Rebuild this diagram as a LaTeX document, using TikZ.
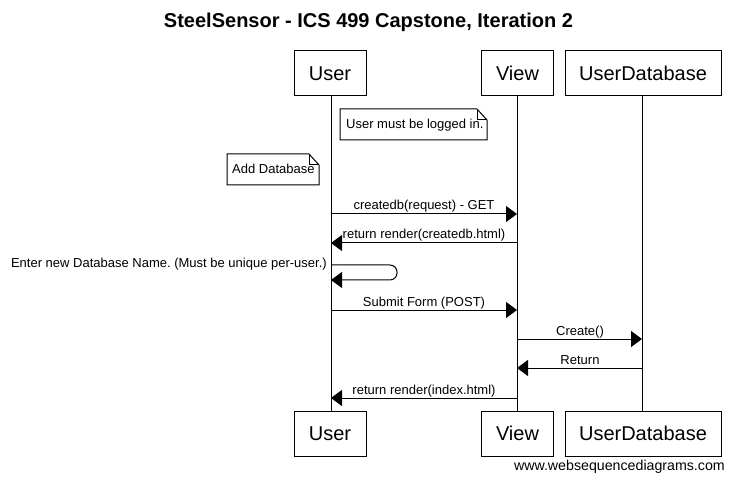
\documentclass[tikz,border=0pt]{standalone}
\usepackage{fontspec}
\setmainfont{Liberation Sans}
\usetikzlibrary{arrows.meta}
\frenchspacing
\begin{document}
\begin{tikzpicture}[x=1pt,y=-1pt,
  actor/.style={draw,line width=1pt,fill=white,minimum width=72pt,minimum height=45pt,inner sep=0pt,font=\fontsize{20}{24}\selectfont},
  life/.style={line width=1pt},
  msg/.style={line width=1pt,-{Triangle[length=11pt,width=16pt]}},
  lbl/.style={font=\fontsize{13}{15}\selectfont,inner sep=0pt,anchor=base},
  notebox/.style={draw,line width=1pt,fill=white},
  notetext/.style={font=\fontsize{13}{15}\selectfont,inner sep=0pt,anchor=base west}]
\useasboundingbox (0,0) rectangle (734,481);
\fill[white] (0,0) rectangle (734,481);
% title
\node[font=\bfseries\fontsize{20}{24}\selectfont,inner sep=0pt,anchor=base] (title) at (368.5,28) {SteelSensor - ICS 499 Capstone, Iteration 2};
% lifelines
\coordinate (ut) at (331,96); \coordinate (ub) at (331,411);
\coordinate (vt) at (517,96); \coordinate (vb) at (517,411);
\coordinate (dt) at (642,96); \coordinate (db) at (642,411);
\draw[life] (ut) -- (ub);
\draw[life] (vt) -- (vb);
\draw[life] (dt) -- (db);
% actors
\node[actor] (user1) at (330,73.5) {User};
\node[actor] (view1) at (517.5,73.5) {View};
\node[actor,minimum width=156pt] (udb1) at (643,73.5) {UserDatabase};
\node[actor] (user2) at (330,433.5) {User};
\node[actor] (view2) at (517.5,433.5) {View};
\node[actor,minimum width=156pt] (udb2) at (643,433.5) {UserDatabase};
% note 1
\draw[notebox] (340,109) -- (477,109) -- (487,120) -- (487,140) -- (340,140) -- cycle;
\draw[line width=1pt] (477,109) -- (477,120) -- (487,120);
\node[notetext] (n1) at (346,129) {User must be logged in.};
% note 2
\draw[notebox] (227,154) -- (309,154) -- (319,165) -- (319,185) -- (227,185) -- cycle;
\draw[line width=1pt] (309,154) -- (309,165) -- (319,165);
\node[notetext] (n2) at (232,174) {Add Database};
% messages
\coordinate (u1) at (331,214); \coordinate (v1) at (517,214);
\draw[msg] (u1) -- (v1);
\node[lbl] (m1) at (424,210) {createdb(request) - GET};
\coordinate (u2) at (331,243); \coordinate (v2) at (517,243);
\draw[msg] (v2) -- (u2);
\node[lbl] (m2) at (424,239) {return render(createdb.html)};
\coordinate (s1) at (331,265); \coordinate (s2) at (331,280);
\draw[msg,rounded corners=7pt] (s1) -- (397,265) -- (397,280) -- (s2);
\node[lbl,anchor=base east] (m3) at (327,268) {Enter new Database Name. (Must be unique per-user.)};
\coordinate (u4) at (331,310); \coordinate (v4) at (517,310);
\draw[msg] (u4) -- (v4);
\node[lbl] (m4) at (424,306) {Submit Form (POST)};
\coordinate (v5) at (517,339); \coordinate (d5) at (642,339);
\draw[msg] (v5) -- (d5);
\node[lbl] (m5) at (580,335) {Create()};
\coordinate (v6) at (517,368); \coordinate (d6) at (642,368);
\draw[msg] (d6) -- (v6);
\node[lbl] (m6) at (580,364) {Return};
\coordinate (u7) at (331,398); \coordinate (v7) at (517,398);
\draw[msg] (v7) -- (u7);
\node[lbl] (m7) at (424,394) {return render(index.html)};
% watermark
\node[font=\fontsize{14.2}{16}\selectfont,inner sep=0pt,anchor=base east] (wm) at (725,470) {www.websequencediagrams.com};
\end{tikzpicture}
\end{document}
